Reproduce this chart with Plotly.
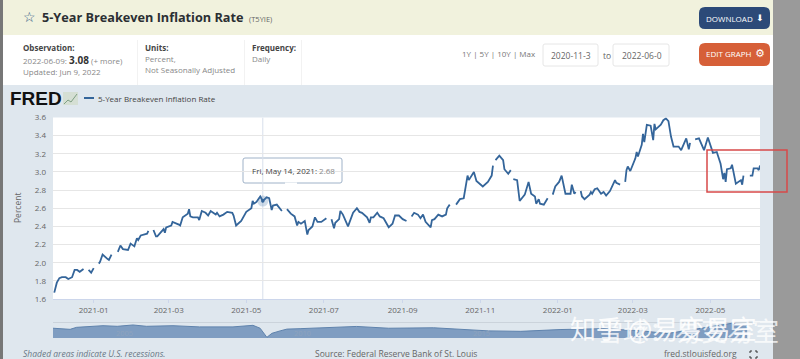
import pandas as pd
import plotly.graph_objects as go

W, H = 800, 359
START = "2020-11-30"
END = "2022-06-09"

# days after START for each reading; None marks a hole in the series
days = [1,2,3,5,7,10,12,15,17,19,21,24,None,28,30,32,None,36,37,39,41,43,44,46,None,
        51,53,55,59,61,64,66,67,69,72,74,75,None,
        79,81,82,85,87,88,89,93,94,99,100,102,106,107,108,110,114,115,117,120,122,124,128,129,131,134,137,141,142,144,148,152,156,157,158,160,163,165,166,168,170,172,173,176,180,None,
        184,187,190,192,193,195,198,200,201,204,206,208,211,215,None,
        219,221,222,225,226,228,232,234,236,239,241,243,247,249,250,252,255,257,260,264,267,269,272,275,278,None,
        282,284,287,289,291,293,297,298,300,303,306,309,310,312,None,
        317,320,323,326,327,331,333,338,342,345,346,None,
        348,351,354,355,358,360,None,
        362,365,367,371,374,376,379,380,382,383,386,389,None,
        393,395,398,400,403,407,408,410,411,None,
        415,416,418,422,423,424,426,428,431,433,435,438,442,443,446,None,
        450,451,452,454,458,459,460,463,464,465,467,470,472,473,474,478,480,482,484,486,488,492,494,497,498,500,501,None,
        505,508,512,515,519,522,525,527,528,529,530,533,534,537,541,542,543,None,
        548,550,551,554,555,556]
values = [1.67,1.72,1.78,1.83,1.84,1.84,1.82,1.84,1.92,1.92,1.90,1.93,None,1.92,1.89,1.94,None,1.99,2.01,2.09,2.06,2.04,2.03,2.09,None,
          2.12,2.19,2.15,2.14,2.21,2.18,2.27,2.25,2.30,2.31,2.32,2.35,None,
          2.36,2.29,2.29,2.34,2.37,2.33,2.39,2.41,2.45,2.42,2.41,2.50,2.54,2.59,2.51,2.50,2.50,2.47,2.57,2.55,2.52,2.57,2.53,2.55,2.51,2.53,2.56,2.55,2.52,2.41,2.46,2.56,2.60,2.68,2.65,2.67,2.73,2.68,2.69,2.72,2.71,2.58,2.63,2.64,2.57,None,
          2.59,2.54,2.51,2.41,2.45,2.43,2.46,2.31,2.36,2.40,2.50,2.45,2.45,2.49,None,
          2.48,2.38,2.44,2.48,2.57,2.53,2.40,2.47,2.55,2.60,2.56,2.55,2.50,2.44,2.50,2.50,2.55,2.51,2.49,2.39,2.43,2.52,2.52,2.48,2.46,None,
          2.51,2.55,2.53,2.49,2.53,2.45,2.39,2.47,2.48,2.53,2.51,2.53,2.60,2.64,None,
          2.64,2.70,2.71,2.96,2.91,3.00,2.90,2.84,2.89,2.96,3.07,None,
          3.13,3.18,3.13,3.03,2.98,3.02,None,
          2.92,2.91,2.68,2.75,2.89,2.76,2.73,2.65,2.70,2.65,2.64,2.71,None,
          2.75,2.84,2.89,2.96,2.76,2.76,2.86,2.76,2.78,None,
          2.79,2.73,2.70,2.75,2.78,2.76,2.81,2.82,2.76,2.78,2.74,2.79,2.91,2.88,2.86,None,
          2.89,3.02,3.06,3.01,3.15,3.22,3.17,3.30,3.42,3.33,3.52,3.51,3.35,3.53,3.47,3.52,3.57,3.59,3.56,3.39,3.28,3.28,3.24,3.35,3.37,3.25,3.32,None,
          3.36,3.37,3.24,3.38,3.21,3.22,3.09,2.92,2.99,2.89,3.03,3.04,3.08,2.87,2.91,2.86,2.96,None,
          2.96,2.96,3.04,3.04,3.02,3.07]

hover_date = "2021-05-14"
hover_value = 2.68

overview_years = [2003.0,2003.48,2003.66,2004.4,2004.8,2005.24,2005.62,2006.36,2007.1,2008.04,2008.6,2008.8,2008.99,2009.13,2009.36,2009.55,2009.92,2010.2,2010.6,2011.5,2012.4,2013.66,2015.2,2016.1,2017.2,2018.4,2019.5,2020.2,2021.0,2022.0,2022.44]
overview_values = [2.2,1.95,2.4,2.77,2.63,2.93,2.63,2.77,2.5,2.5,2.85,2.2,0.15,1.05,1.6,2.0,2.1,2.2,2.4,2.6,2.2,2.3,1.6,1.5,1.9,2.1,1.6,1.0,2.0,3.3,3.0]
overview_labels = [2005, 2010, 2015]

y_ticks = [1.6,1.8,2.0,2.2,2.4,2.6,2.8,3.0,3.2,3.4,3.6]

dates = [None if d is None else pd.Timestamp(START) + pd.Timedelta(days=d) for d in days]


def px(x):
    return x / W


def py(y):
    return 1 - y / H


shapes = []
anns = []


def rect(x0, y0, x1, y1, fill, line=None, lw=1, layer="below"):
    shapes.append(dict(type="rect", xref="paper", yref="paper", x0=px(x0), x1=px(x1), y0=py(y1), y1=py(y0),
                       fillcolor=fill, line=dict(color=line or fill, width=lw if line else 0), layer=layer))


def rrect(x0, y0, x1, y1, r, fill, line=None):
    a, b, c, d = px(x0), px(x1), py(y0), py(y1)
    rx, ry = r / W, r / H
    path = (f"M{a+rx},{c} L{b-rx},{c} Q{b},{c} {b},{c-ry} L{b},{d+ry} Q{b},{d} {b-rx},{d} "
            f"L{a+rx},{d} Q{a},{d} {a},{d+ry} L{a},{c-ry} Q{a},{c} {a+rx},{c} Z")
    shapes.append(dict(type="path", xref="paper", yref="paper", path=path, fillcolor=fill,
                       line=dict(color=line or fill, width=1 if line else 0), layer="below"))


def poly(points, fill=None, line=None, lw=1, layer="above"):
    path = "M" + " L".join(f"{px(x)},{py(y)}" for x, y in points)
    if fill:
        path += " Z"
    shapes.append(dict(type="path", xref="paper", yref="paper", path=path, fillcolor=fill or "rgba(0,0,0,0)",
                       line=dict(color=line or "rgba(0,0,0,0)", width=lw), layer=layer))


def text(x, y, s, size=8, color="#666666", anchor="left", font="Open Sans", angle=0):
    anns.append(dict(xref="paper", yref="paper", x=px(x), y=py(y), text=s, showarrow=False, xanchor=anchor,
                     yanchor="middle", align=anchor, textangle=angle, borderpad=0,
                     font=dict(size=size, color=color, family=font)))


# page panels
rect(0, 0, 773, 35, "#f1f2dd")
rect(0, 35, 773, 85, "#ffffff")
rect(0, 85, 773, 359, "#dfe7ee")
rect(53, 117.5, 760, 299, "#ffffff")
rect(773, 0, 800, 359, "#9a9a9a")
rect(0, 0, 3, 359, "#777777")
for sx in (137, 244, 301):
    rect(sx, 40, sx + 1, 85, "#f2f2f2")

# header text
text(22, 17, "☆", 14, "#2c5282", font="DejaVu Sans")
text(41, 17, "<b>5-Year Breakeven Inflation Rate</b>", 12.7, "#2b2f33")
text(248, 19, "(T5YIE)", 7.5, "#666666")
text(22, 47.5, "<b>Observation:</b>", 8, "#444444")
text(22, 60, "2022-06-09: <span style='font-size:10px;color:#333'><b>3.08</b></span> (+ more)", 8, "#888888")
text(22, 72, "Updated: Jun 9, 2022", 8, "#888888")
text(144, 47.5, "<b>Units:</b>", 8, "#444444")
text(144, 59, "Percent,", 8, "#888888")
text(144, 70, "Not Seasonally Adjusted", 8, "#888888")
text(251, 47.5, "<b>Frequency:</b>", 8, "#444444")
text(251, 59, "Daily", 8, "#888888")
text(461, 53, "1Y | 5Y | 10Y | Max", 8, "#777777")
rrect(543, 44, 598, 66, 2, "#ffffff", "#e6e6e6")
rrect(613, 44, 669, 66, 2, "#ffffff", "#e6e6e6")
text(550, 55, "2020-11-3", 8.5, "#666666")
text(621, 55, "2022-06-0", 8.5, "#666666")
text(602, 55, "to", 8.5, "#666666")
rrect(699, 7, 770, 29, 6, "#2c4a78")
text(705, 18, "DOWNLOAD", 8, "#ffffff")
text(755, 17.5, "⬇", 9, "#ffffff", font="DejaVu Sans")
rrect(699, 43, 770, 66, 6, "#d65f38")
text(705, 54, "EDIT GRAPH", 8, "#ffffff")
text(754, 54, "⚙", 11, "#ffffff", font="DejaVu Sans")

# logo and legend
text(9, 98, "<b>FRED</b>", 19, "#111111", font="Liberation Sans")
rect(63, 92, 78, 105, "#d5dfd4")
poly([(64, 104), (68, 100), (71, 102), (77, 94)], line="#7f9f84", lw=1)
poly([(84, 98), (94, 98)], line="#34659a", lw=2)
text(97, 98, "5-Year Breakeven Inflation Rate", 8, "#444444")

# axis title
text(17, 208, "Percent", 8.5, "#666666", anchor="center", angle=-90)

# hover crosshair
shapes.append(dict(type="line", xref="x", yref="y", x0=hover_date, x1=hover_date, y0=1.6, y1=3.6,
                   line=dict(color="#d8dfec", width=1), layer="below"))

# tooltip
rrect(243, 158, 342, 183, 2, "#ffffff", "#9fb2c8")
poly([(285, 183), (291, 188), (297, 183)], fill="#ffffff", line="#ffffff", layer="above")
anns.append(dict(xref="paper", yref="paper", x=px(250), y=py(170.5), xanchor="left", yanchor="middle",
                 showarrow=False, text="Fri, May 14, 2021: <span style='color:#888'>2.68</span>",
                 font=dict(size=8, color="#444444", family="Open Sans")))

# overview frame
rect(53, 322, 760, 322.7, "#c4ccd4")

# red mark
rect(707, 150, 787, 192, "rgba(0,0,0,0)", "#d84a4a", 1.5, "above")

# footer
text(22, 353, "<i>Shaded areas indicate U.S. recessions.</i>", 8.5, "#6a7785")
text(396, 353, "Source: Federal Reserve Bank of St. Louis", 8.5, "#666666", anchor="center")
text(663, 353, "fred.stlouisfed.org", 8.5, "#666666")
for cx, cy, dx, dy in ((750, 351, 1, 1), (757, 351, -1, 1), (750, 358, 1, -1), (757, 358, -1, -1)):
    poly([(cx + dx * 2, cy), (cx, cy), (cx, cy + dy * 2)], line="#333333", lw=1)

# overview year labels
for yr in overview_labels:
    anns.append(dict(xref="x2", yref="y2", x=yr, y=1.1, text=str(yr), showarrow=False,
                     font=dict(size=7.5, color="#8ea3bd", family="Open Sans")))

# watermarks
text(569, 327, "知乎 @易变易室", 26, "rgba(255,255,255,0.9)", font="Noto Sans CJK SC")
text(596, 329, "雪球：易变易室", 26, "rgba(255,255,255,0.75)", font="Noto Sans CJK SC")

fig = go.Figure()
fig.add_trace(go.Scatter(x=dates, y=values, mode="lines", line=dict(color="#34659a", width=1.8),
                         connectgaps=False, hoverinfo="skip", xaxis="x", yaxis="y"))
fig.add_trace(go.Scatter(x=[hover_date], y=[hover_value], mode="markers",
                         marker=dict(size=11, color="rgba(69,114,167,0.25)"), hoverinfo="skip"))
fig.add_trace(go.Scatter(x=[hover_date], y=[hover_value], mode="markers",
                         marker=dict(size=3.5, color="#34659a"), hoverinfo="skip"))
fig.add_trace(go.Scatter(x=overview_years, y=overview_values, mode="lines", fill="tozeroy",
                         line=dict(color="#5f83ad", width=1), fillcolor="#7f9dc1", hoverinfo="skip",
                         xaxis="x2", yaxis="y2"))

fig.update_layout(
    width=W, height=H, margin=dict(l=0, r=0, t=0, b=0, autoexpand=False), showlegend=False,
    paper_bgcolor="#dfe7ee", plot_bgcolor="#ffffff", shapes=shapes, annotations=anns,
    font=dict(family="Open Sans", size=8, color="#666666"),
    xaxis=dict(domain=[px(53), px(760)], range=[START, END], anchor="y", type="date",
               tick0="2021-01-01", dtick="M2", tickformat="%Y-%m", ticks="outside", ticklen=3,
               tickcolor="#ccd6eb", showgrid=False, showline=True, linecolor="#ccd6eb", zeroline=False,
               tickfont=dict(size=8, color="#666666")),
    yaxis=dict(domain=[py(299), py(117.5)], range=[1.6, 3.6], tickvals=y_ticks, tickformat=".1f",
               gridcolor="#e6e6e6", zeroline=False, showline=False, ticks="", ticklabelstandoff=6,
               tickfont=dict(size=8, color="#666666")),
    xaxis2=dict(domain=[px(53), px(760)], range=[2003, 2022.8], anchor="y2", visible=False),
    yaxis2=dict(domain=[py(338), py(322)], range=[0, 3.6], anchor="x2", visible=False),
)

fig.write_html("out.html", config=dict(displayModeBar=False),
               post_script="document.body.style.margin='0';document.documentElement.style.overflow='hidden';")
